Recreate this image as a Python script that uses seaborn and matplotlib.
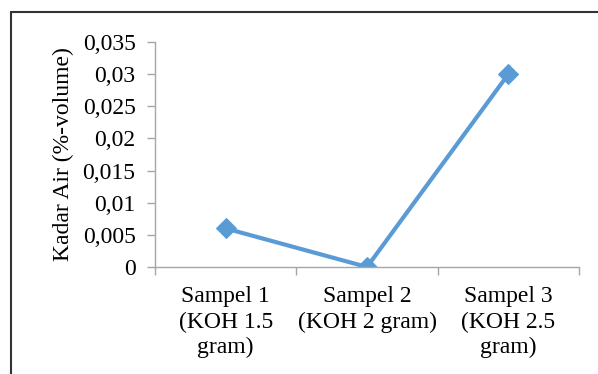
import matplotlib
matplotlib.use("Agg")
import matplotlib.pyplot as plt
import seaborn as sns
import pandas as pd
from matplotlib.lines import Line2D
from matplotlib.ticker import FixedLocator, FuncFormatter

categories = ["Sampel 1\n(KOH 1.5\ngram)", "Sampel 2\n(KOH 2 gram)", "Sampel 3\n(KOH 2.5\ngram)"]
values = [0.006, 0.0, 0.03]
yticks = [0, 0.005, 0.01, 0.015, 0.02, 0.025, 0.03, 0.035]

sns.set_theme(style="white")
plt.rcParams['font.family'] = ['Liberation Serif', 'DejaVu Serif']

fig = plt.figure(figsize=(5.98, 3.74), dpi=100)
ax = fig.add_axes([155/598, 1-267/374, (579-155)/598, (267-42)/374])

df = pd.DataFrame({"pos": list(range(len(categories))), "val": values})
sns.lineplot(data=df, x="pos", y="val", ax=ax, color="#5B9BD5", linewidth=3,
             marker="D", markersize=10, markeredgecolor="#5B9BD5", sort=False)

fs = 17
ax.set_xlim(-0.5, 2.5)
ax.set_ylim(0, 0.035)
ax.set_yticks(yticks)
ax.yaxis.set_major_formatter(FuncFormatter(lambda v, p: ("%g" % round(v, 3)).replace(".", ",")))
ax.xaxis.set_major_locator(FixedLocator([-0.5, 0.5, 1.5, 2.5]))
ax.xaxis.set_major_formatter(FuncFormatter(lambda v, p: ""))
ax.xaxis.set_minor_locator(FixedLocator(list(range(len(categories)))))
ax.set_xticklabels(categories, minor=True)
ax.tick_params(axis="x", which="minor", length=0, labelsize=fs, pad=14, colors="black")
ax.tick_params(axis="x", which="major", length=6, width=1, color="#A6A6A6", direction="out", bottom=True)
ax.tick_params(axis="y", length=6, width=1, color="#A6A6A6", direction="out", labelsize=fs, left=True, labelcolor="black", pad=8)
for lab in ax.get_xticklabels(minor=True):
    lab.set_linespacing(1.25)
ax.set_xlabel("")
ax.set_ylabel("Kadar Air (%-volume)", fontsize=fs, color="black", labelpad=6)
for s in ["top", "right"]:
    ax.spines[s].set_visible(False)
for s in ["left", "bottom"]:
    ax.spines[s].set_color("#A6A6A6")
    ax.spines[s].set_linewidth(1)

# outer chart border (cropped)
fig.add_artist(Line2D([11/598, 11/598], [0, 1-12/374], transform=fig.transFigure, color="#333333", linewidth=1.5))
fig.add_artist(Line2D([11/598, 1], [1-12/374, 1-12/374], transform=fig.transFigure, color="#333333", linewidth=1.5))

fig.savefig("out.png", dpi=100)
